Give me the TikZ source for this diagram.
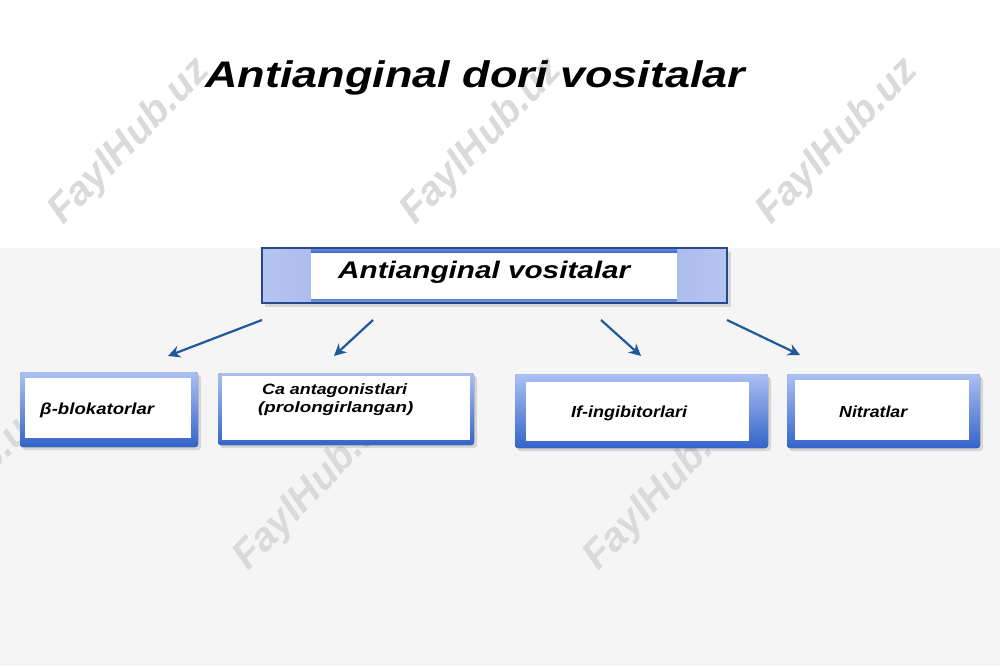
\documentclass[tikz,border=0pt]{standalone}
\usepackage{fontspec}
\setmainfont{Liberation Sans}
\usepackage{graphicx}
\usetikzlibrary{arrows.meta}
\definecolor{arrowblue}{RGB}{31,88,155}
\definecolor{bggray}{RGB}{245,245,245}
\definecolor{sidelight}{RGB}{182,196,240}
\definecolor{sidedark}{RGB}{140,162,224}
\definecolor{frameblue}{RGB}{40,72,140}
\definecolor{boxtop}{RGB}{172,192,242}
\definecolor{boxbot}{RGB}{52,100,202}
\definecolor{wmgray}{RGB}{218,218,218}
\newcommand\hs[2]{\resizebox{#1pt}{\height}{#2}}
\tikzset{
  txt/.style={anchor=base west, inner sep=0pt, font=\bfseries\itshape},
  arr/.style={draw=arrowblue, line width=2.2pt, -{Stealth[length=12pt,width=12pt]}},
  shadowbox/.style={fill=black, opacity=0.12},
  smallouter/.style={rounded corners=3pt, top color=boxtop, bottom color=boxbot},
  wm/.style={font=\fontsize{40}{44}\selectfont\bfseries\itshape, text=wmgray, rotate=46}
}
\begin{document}
\begin{tikzpicture}[x=1pt,y=-1pt]
\clip (0,0) rectangle (1000,666);
\useasboundingbox (0,0) rectangle (1000,666);
% background
\fill[white] (0,0) rectangle (1000,248);
\fill[bggray] (0,248) rectangle (1000,666);

% watermarks (behind)
\node[wm] (w1) at (130,142) {FaylHub.uz};
\node[wm] (w2) at (482,142) {FaylHub.uz};
\node[wm] (w3) at (838,142) {FaylHub.uz};
\node[wm] (w4) at (315,488) {FaylHub.uz};
\node[wm] (w5) at (665,488) {FaylHub.uz};
\node[wm] (w6) at (-35,488) {FaylHub.uz};

% title
\node[txt, font=\fontsize{37}{40}\selectfont\bfseries\itshape] (title) at (205,88) {\hs{540}{Antianginal dori vositalar}};

% main box
\fill[shadowbox] (265,252) rectangle (731,307);
\fill[left color=sidelight, right color=sidelight, middle color=sidedark] (262,248) rectangle (727,303);
\fill[top color=boxbot!70, bottom color=boxbot] (311,248) rectangle (677,253);
\fill[top color=boxbot!80, bottom color=boxbot!60] (311,299) rectangle (677,303);
\fill[white] (311,253) rectangle (677,299);
\draw[frameblue, line width=1.3pt] (262,248) rectangle (727,303);
\node[txt, font=\fontsize{24}{28}\selectfont\bfseries\itshape] (main) at (338,278.5) {\hs{292}{Antianginal vositalar}};

% box 1
\fill[shadowbox, rounded corners=3pt] (22,375) rectangle (201,450);
\fill[smallouter] (20,372) rectangle (198,447);
\fill[white] (25,378) rectangle (191,438);
\node[txt, font=\fontsize{16}{19}\selectfont\bfseries\itshape] (b1) at (40,414) {\hs{114}{β-blokatorlar}};

% box 2
\fill[shadowbox, rounded corners=3pt] (220,376) rectangle (477,448);
\fill[smallouter] (218,373) rectangle (474,445);
\fill[white] (222,375.5) rectangle (470,440);
\node[txt, font=\fontsize{15}{18}\selectfont\bfseries\itshape] (b2a) at (262,394) {\hs{145}{Ca antagonistlari}};
\node[txt, font=\fontsize{15}{18}\selectfont\bfseries\itshape] (b2b) at (258,412) {\hs{155}{(prolongirlangan)}};

% box 3
\fill[shadowbox, rounded corners=3pt] (517,377) rectangle (771,451);
\fill[smallouter] (515,374) rectangle (768,448);
\fill[white] (526,382) rectangle (749,441);
\node[txt, font=\fontsize{16}{19}\selectfont\bfseries\itshape] (b3) at (571,417) {\hs{116}{If-ingibitorlari}};

% box 4
\fill[shadowbox, rounded corners=3pt] (789,377) rectangle (983,451);
\fill[smallouter] (787,374) rectangle (980,448);
\fill[white] (795,380) rectangle (969,440);
\node[txt, font=\fontsize{16}{19}\selectfont\bfseries\itshape] (b4) at (839,417) {\hs{68}{Nitratlar}};

% arrows
\coordinate (a1s) at (262,320); \coordinate (a1e) at (168,356);
\coordinate (a2s) at (373,320); \coordinate (a2e) at (334,356);
\coordinate (a3s) at (601,320); \coordinate (a3e) at (641,356);
\coordinate (a4s) at (727,320); \coordinate (a4e) at (800,355);
\draw[arr] (a1s) -- (a1e);
\draw[arr] (a2s) -- (a2e);
\draw[arr] (a3s) -- (a3e);
\draw[arr] (a4s) -- (a4e);
\end{tikzpicture}
\end{document}
